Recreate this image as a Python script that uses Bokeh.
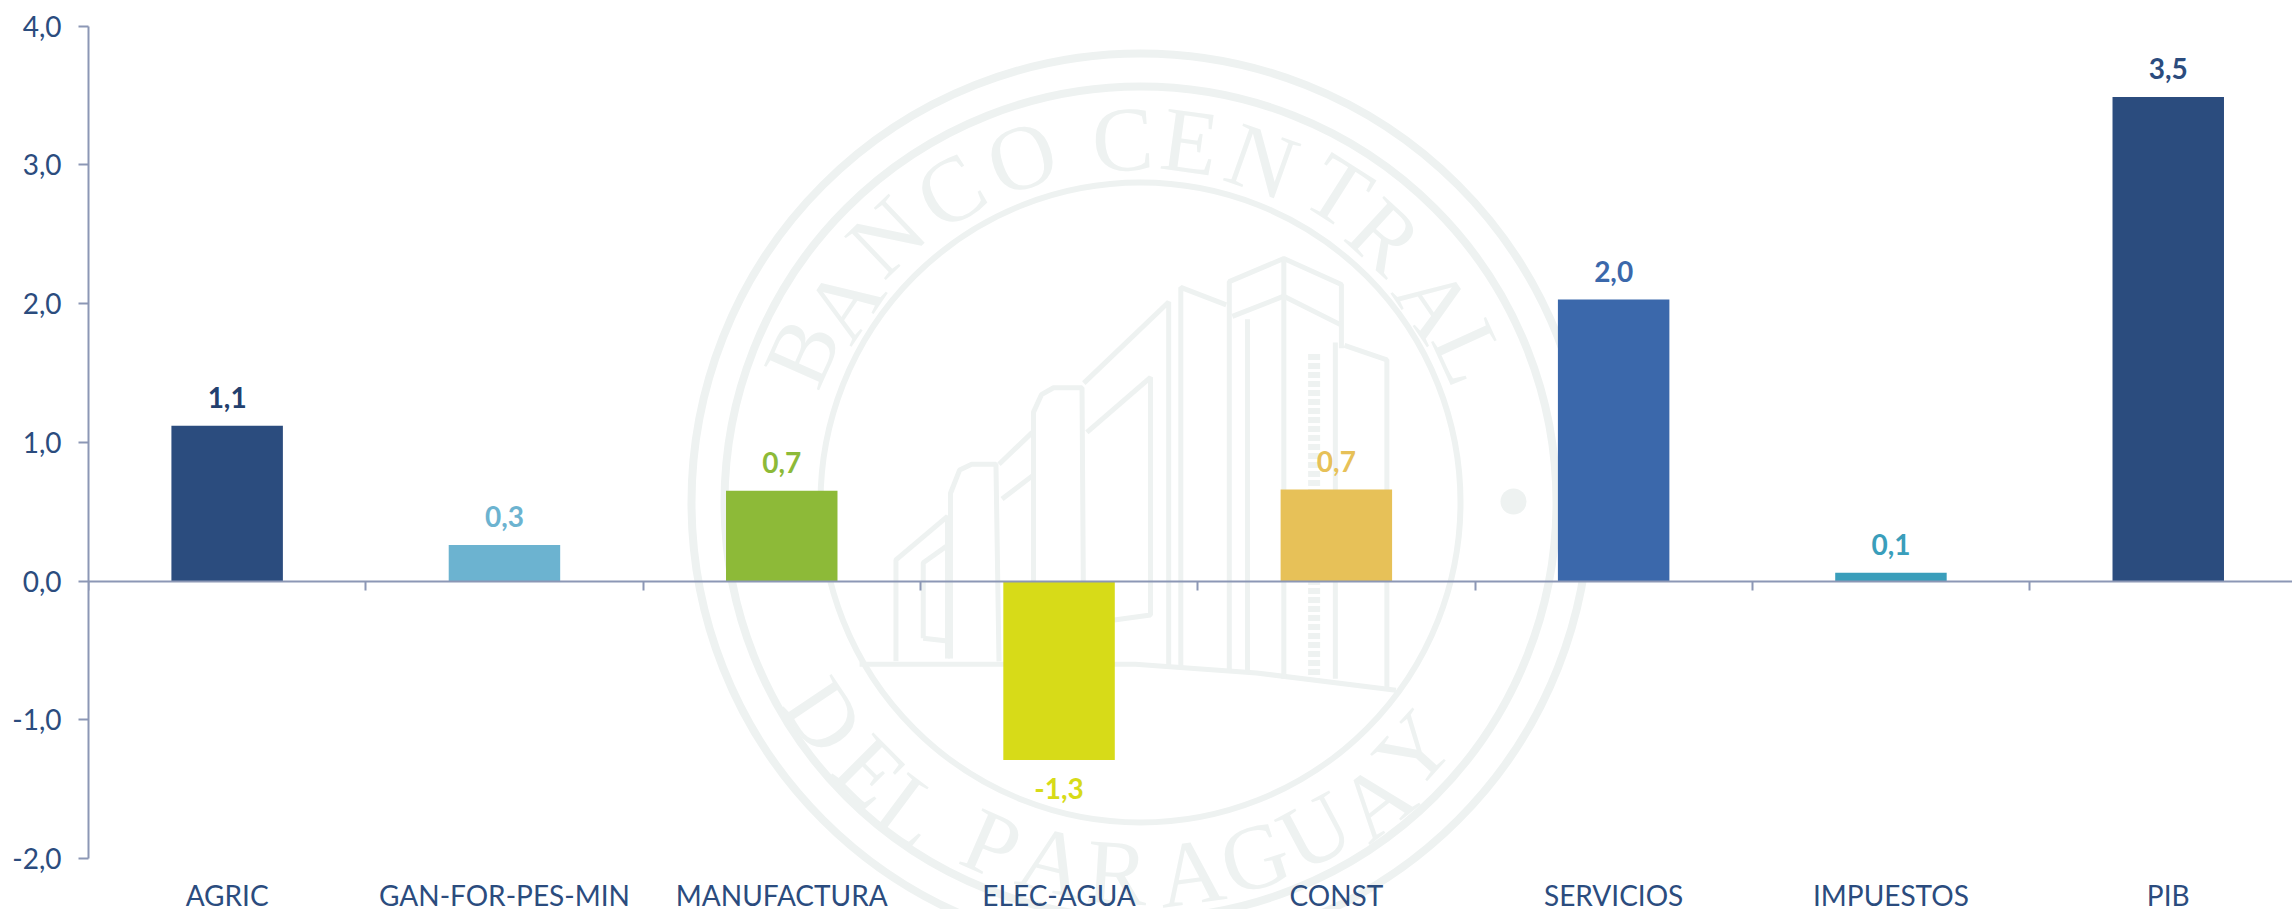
import math
from bokeh.core.properties import value
from bokeh.embed import file_html
from bokeh.models import ColumnDataSource, FixedTicker, LinearAxis, Range1d
from bokeh.plotting import figure
from bokeh.resources import INLINE

categories = ["AGRIC", "GAN-FOR-PES-MIN", "MANUFACTURA", "ELEC-AGUA", "CONST", "SERVICIOS", "IMPUESTOS", "PIB"]
values = [1.12, 0.26, 0.65, -1.29, 0.66, 2.03, 0.06, 3.49]
labels = ["1,1", "0,3", "0,7", "-1,3", "0,7", "2,0", "0,1", "3,5"]
colors = ["#2B4C7E", "#6CB3D0", "#8DBA38", "#D7DB18", "#E7C158", "#3B68AB", "#3A9EBB", "#2B4C7E"]
label_colors = ["#23406E", "#6CB3D0", "#8DBA38", "#D7DB18", "#E7C158", "#3B68AB", "#3A9EBB", "#2B4C7E"]
y_ticks = [-2, -1, 0, 1, 2, 3, 4]
y_tick_labels = ["-2,0", "-1,0", "0,0", "1,0", "2,0", "3,0", "4,0"]

FONT = "Lato"
TEXT = "#2B4C7E"
AXIS = "#8C97B5"
WM = "#EEF2F1"
CAT_W = 277.3
UNIT = 138.7


def X(px):
    return (px - 88) / CAT_W


def Y(py):
    return (580.5 - py) / UNIT


p = figure(width=2292, height=909, output_backend="svg", toolbar_location=None,
           x_range=Range1d(0, X(2292)), y_range=Range1d(Y(909), Y(0)),
           min_border_left=88, min_border_right=0, min_border_top=0, min_border_bottom=0,
           x_axis_location=None, y_axis_location=None)
p.grid.visible = False
p.outline_line_color = None

# watermark (seal behind the chart)
CX, CY = 1140, 502
for r, lw in ((449, 8), (416, 8), (320, 6)):
    p.circle([X(CX)], [Y(CY)], radius=r / CAT_W, fill_color=None, line_color=WM, line_width=lw)
p.scatter([X(1513)], [Y(501)], size=26, color=WM, line_color=None)

seal_top = [("B", 798, 350), ("A", 840, 300), ("N", 883, 233), ("C", 948, 187), ("O", 1020, 153),
            ("C", 1122, 135), ("E", 1190, 137), ("N", 1263, 157), ("T", 1340, 187), ("R", 1387, 233),
            ("A", 1437, 300), ("L", 1473, 350)]
seal_bottom = [("D", 827, 713), ("E", 873, 768), ("L", 913, 807), ("P", 993, 840), ("A", 1053, 857),
               ("R", 1117, 868), ("A", 1190, 868), ("G", 1253, 853), ("U", 1313, 827), ("A", 1373, 797),
               ("Y", 1410, 747)]


def seal_text(letters, upper):
    # the em box centre sits below the capitals' centre: shift each letter along its radius
    shift = -4 if upper else 4
    xs, ys, ang = [], [], []
    for _, px, py in letters:
        t = math.atan2(CY - py, px - CX)
        xs.append(X(px + shift * math.cos(t)))
        ys.append(Y(py - shift * math.sin(t)))
        ang.append(t - math.pi / 2 if upper else t + math.pi / 2)
    p.text(xs, ys, text=[a[0] for a in letters], angle=ang,
           text_align="center", text_baseline="middle", text_color=WM,
           text_font=value("Liberation Serif"), text_font_size="92px")


seal_text(seal_top, True)
seal_text(seal_bottom, False)

building = [
    [(345, 1145), (800, 1145), (1000, 1160), (1230, 1190)],
    [(405, 1140), (405, 965), (490, 890), (490, 1135)],
    [(450, 1100), (450, 970), (490, 940)],
    [(450, 1100), (490, 1105)],
    [(495, 1135), (495, 850), (510, 810), (530, 800), (570, 800), (575, 1140)],
    [(575, 800), (630, 745)],
    [(580, 860), (630, 820)],
    [(632, 1140), (632, 710), (645, 680), (665, 668), (712, 668), (715, 1140)],
    [(715, 660), (855, 520), (855, 1150)],
    [(720, 745), (825, 650), (825, 1060), (720, 1075)],
    [(875, 1150), (875, 495), (950, 525)],
    [(955, 1160), (955, 485), (1045, 445), (1140, 490), (1140, 600)],
    [(960, 545), (1045, 510), (1140, 560)],
    [(1045, 445), (1045, 1170)],
    [(985, 550), (985, 1160)],
    [(1145, 595), (1215, 620), (1215, 1185)],
    [(1130, 590), (1130, 1170)],
]
p.multi_line([[X(650 + a / 1.65) for a, b in s] for s in building],
             [[Y(b / 1.725) for a, b in s] for s in building], line_color=WM, line_width=5)
p.line([X(650 + 1095 / 1.65)] * 2, [Y(610 / 1.725), Y(1170 / 1.725)], line_color=WM, line_width=12, line_dash="6 3")

# bars and labels
centers = [i + 0.5 for i in range(len(categories))]
src = ColumnDataSource(dict(x=centers, top=values, bottom=[0] * len(values), color=colors,
                            label=labels, label_color=label_colors,
                            off=[-28 if v >= 0 else 29 for v in values]))
p.vbar(x="x", top="top", bottom="bottom", width=0.402, color="color", line_color=None, source=src)
p.text(x="x", y="top", text="label", text_color="label_color", y_offset="off", source=src,
       text_align="center", text_baseline="middle", text_font=value(FONT),
       text_font_size="28px", text_font_style="bold")

# y axis
ya = LinearAxis(ticker=FixedTicker(ticks=y_ticks), bounds=(-2, 4))
ya.major_label_overrides = dict(zip(y_ticks, y_tick_labels))
ya.axis_line_color = AXIS
ya.axis_line_width = 2
ya.major_tick_line_color = AXIS
ya.major_tick_line_width = 2
ya.major_tick_in = 0
ya.major_tick_out = 10
ya.minor_tick_line_color = None
ya.major_label_standoff = 17
ya.major_label_text_color = TEXT
ya.major_label_text_font = FONT
ya.major_label_text_font_size = "28px"
p.add_layout(ya, "left")

# zero line with category separators
xa = LinearAxis(ticker=FixedTicker(ticks=list(range(len(categories) + 1))), fixed_location=0)
xa.axis_line_color = AXIS
xa.axis_line_width = 2
xa.major_tick_line_color = AXIS
xa.major_tick_line_width = 2
xa.major_tick_in = 0
xa.major_tick_out = 9
xa.minor_tick_line_color = None
xa.major_label_text_font_size = "0px"
xa.major_label_text_color = None
p.add_layout(xa, "below")

# category labels
ca = LinearAxis(ticker=FixedTicker(ticks=centers), fixed_location=Y(877))
ca.major_label_overrides = dict(zip(centers, categories))
ca.axis_line_color = None
ca.major_tick_line_color = None
ca.minor_tick_line_color = None
ca.major_tick_in = 0
ca.major_tick_out = 0
ca.major_label_standoff = 0
ca.major_label_text_color = TEXT
ca.major_label_text_font = FONT
ca.major_label_text_font_size = "28px"
p.add_layout(ca, "below")

open("out.html", "w").write(file_html(p, INLINE))
